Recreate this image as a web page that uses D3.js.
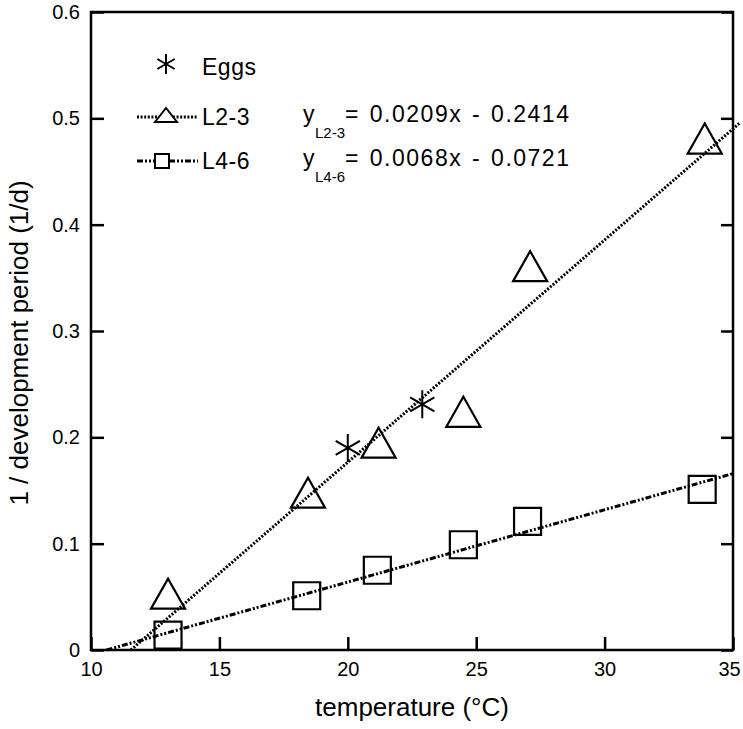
<!DOCTYPE html>
<html>
<head>
<meta charset="utf-8">
<script src="https://cdn.jsdelivr.net/npm/d3@7"></script>
<style>
  body { margin: 0; background: #fff; }
  text { font-family: "Liberation Sans", Arial, Helvetica, sans-serif; fill: #000; }
</style>
</head>
<body>
<div id="chart"></div>
<script>
// data
const xTicks = [10, 15, 20, 25, 30, 35];
const yTicks = [0, 0.1, 0.2, 0.3, 0.4, 0.5, 0.6];

const eggsTemp = [20.0, 22.9];
const eggsRate = [0.19, 0.231];

const l23Temp = [13.0, 18.45, 21.2, 24.5, 27.1, 33.9];
const l23Rate = [0.053, 0.148, 0.195, 0.224, 0.361, 0.481];

const l46Temp = [13.0, 18.4, 21.15, 24.5, 27.0, 33.8];
const l46Rate = [0.014, 0.051, 0.075, 0.099, 0.121, 0.151];

// regression lines: slope, intercept, drawn x range
const fitNames = ["L2-3", "L4-6"];
const fitSlope = [0.0209, 0.0068];
const fitIntercept = [-0.2414, -0.0721];
const fitXmax = [35.25, 35];

const width = 743;
const height = 729;
const margin = { top: 12, right: 10, bottom: 79, left: 91 };

const svg = d3
  .select("#chart")
  .append("svg")
  .attr("width", width)
  .attr("height", height);

const x = d3.scaleLinear().domain([10, 35]).range([margin.left, width - margin.right]);
const y = d3.scaleLinear().domain([0, 0.6]).range([height - margin.bottom, margin.top]);

const yFormat = (d) => (d === 0 ? "0" : d3.format(".1f")(d));

// axes (ticks inward)
svg
  .append("g")
  .attr("transform", `translate(0, ${y(0)})`)
  .call(d3.axisBottom(x).tickValues(xTicks).tickSize(-13).tickPadding(12))
  .call((g) => g.select(".domain").remove())
  .call((g) => g.selectAll("line").attr("stroke-width", 2.5))
  .call((g) => g.selectAll("text").attr("font-size", 20))
  .call((g) => g.selectAll("text").filter((d) => d === 35).attr("dx", -4));

svg
  .append("g")
  .attr("transform", `translate(${x(10)}, 0)`)
  .call(d3.axisLeft(y).tickValues(yTicks).tickFormat(yFormat).tickSize(-13).tickPadding(11))
  .call((g) => g.select(".domain").remove())
  .call((g) => g.selectAll("line").attr("stroke-width", 2.5))
  .call((g) => g.selectAll("text").attr("font-size", 20));

svg
  .append("g")
  .attr("transform", `translate(${x(35)}, 0)`)
  .call(d3.axisRight(y).tickValues(yTicks).tickFormat("").tickSize(-12))
  .call((g) => g.select(".domain").remove())
  .call((g) => g.selectAll("line").attr("stroke-width", 2.5));

svg
  .append("rect")
  .attr("x", x(10))
  .attr("y", y(0.6))
  .attr("width", x(35) - x(10))
  .attr("height", y(0) - y(0.6))
  .attr("fill", "none")
  .attr("stroke", "#000")
  .attr("stroke-width", 2.5);

// axis titles
svg
  .append("text")
  .attr("x", (x(10) + x(35)) / 2)
  .attr("y", 716)
  .attr("text-anchor", "middle")
  .attr("font-size", 26)
  .text("temperature (°C)");

svg
  .append("text")
  .attr("transform", `translate(28, ${(y(0) + y(0.6)) / 2 + 12}) rotate(-90)`)
  .attr("text-anchor", "middle")
  .attr("font-size", 26)
  .text("1 / development period (1/d)");

// regression lines
const dashes = ["2,1.6", "6,2,2,2,2,2"];
fitNames.forEach((name, i) => {
  const x0 = -fitIntercept[i] / fitSlope[i];
  const pts = [x0, fitXmax[i]].map((t) => [t, fitSlope[i] * t + fitIntercept[i]]);
  svg
    .append("path")
    .attr("d", d3.line().x((d) => x(d[0])).y((d) => y(d[1]))(pts))
    .attr("fill", "none")
    .attr("stroke", "#000")
    .attr("stroke-width", 3)
    .attr("stroke-dasharray", dashes[i]);
});

// marker shapes
const triangle = (cx, cy, w, h) =>
  `M${cx - w / 2},${cy + h / 2}L${cx},${cy - h / 2}L${cx + w / 2},${cy + h / 2}Z`;
const square = (cx, cy, s) => `M${cx - s / 2},${cy - s / 2}h${s}v${s}h${-s}Z`;
const asterisk = (cx, cy, r) => {
  let p = `M${cx},${cy - r}L${cx},${cy + r}`;
  [30, -30].forEach((a) => {
    const dx = r * Math.cos((a * Math.PI) / 180);
    const dy = r * Math.sin((a * Math.PI) / 180);
    p += `M${cx - dx},${cy - dy}L${cx + dx},${cy + dy}`;
  });
  return p;
};

svg
  .selectAll(".tri")
  .data(l23Temp)
  .enter()
  .append("path")
  .attr("class", "tri")
  .attr("d", (d, i) => triangle(x(d), y(l23Rate[i]), 34, 30))
  .attr("fill", "none")
  .attr("stroke", "#000")
  .attr("stroke-width", 2.2);

svg
  .selectAll(".sq")
  .data(l46Temp)
  .enter()
  .append("path")
  .attr("class", "sq")
  .attr("d", (d, i) => square(x(d), y(l46Rate[i]), 27))
  .attr("fill", "none")
  .attr("stroke", "#000")
  .attr("stroke-width", 2.2);

svg
  .selectAll(".egg")
  .data(eggsTemp)
  .enter()
  .append("path")
  .attr("class", "egg")
  .attr("d", (d, i) => asterisk(x(d), y(eggsRate[i]), 14))
  .attr("fill", "none")
  .attr("stroke", "#000")
  .attr("stroke-width", 2);

// legend
const legend = svg.append("g").attr("font-size", 23).attr("letter-spacing", 0.5);
legend
  .append("path")
  .attr("d", asterisk(166, 64, 10))
  .attr("stroke", "#000")
  .attr("stroke-width", 2)
  .attr("fill", "none");
legend.append("text").attr("x", 202).attr("y", 75).text("Eggs");

const rowY = [117, 161];
rowY.forEach((ry, i) => {
  legend
    .append("line")
    .attr("x1", 137)
    .attr("x2", 198)
    .attr("y1", ry)
    .attr("y2", ry)
    .attr("stroke", "#000")
    .attr("stroke-width", 3)
    .attr("stroke-dasharray", dashes[i]);
  legend
    .append("path")
    .attr("d", i === 0 ? triangle(166, ry - 2, 22, 14) : square(162, ry, 14))
    .attr("fill", "#fff")
    .attr("stroke", "#000")
    .attr("stroke-width", 2);
  legend.append("text").attr("x", 202).attr("y", ry + 8).text(fitNames[i]);

  const sign = fitIntercept[i] < 0 ? "-" : "+";
  legend.append("text").attr("x", 303).attr("y", ry + 5).text("y");
  legend
    .append("text")
    .attr("x", 345)
    .attr("y", ry + 5)
    .attr("letter-spacing", 1.5)
    .attr("word-spacing", 2)
    .text(`= ${fitSlope[i].toFixed(4)}x ${sign} ${Math.abs(fitIntercept[i]).toFixed(4)}`);
  legend
    .append("text")
    .attr("x", 315)
    .attr("y", ry + 21)
    .attr("font-size", 15)
    .attr("letter-spacing", 0)
    .text(fitNames[i]);
});
</script>
</body>
</html>
